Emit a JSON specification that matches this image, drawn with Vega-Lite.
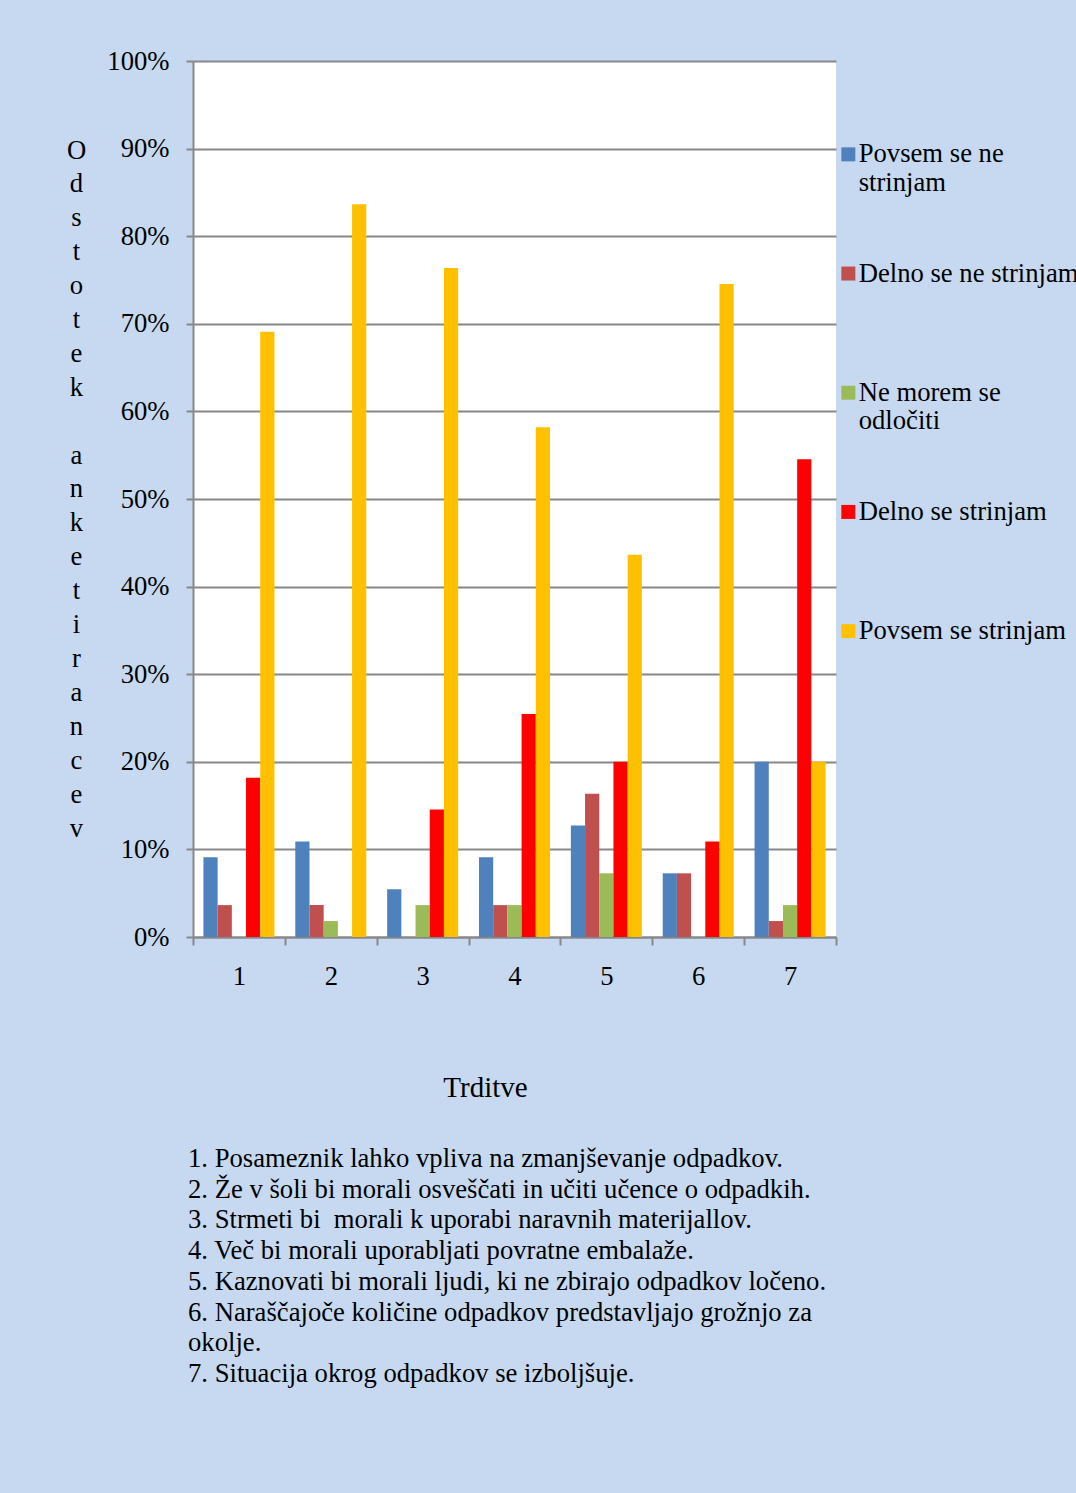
{
  "$schema": "https://vega.github.io/schema/vega-lite/v6.json",
  "width": 643,
  "height": 876,
  "autosize": {"type": "none"},
  "padding": {"left": 193, "top": 61, "right": 240, "bottom": 556},
  "background": "#C6D9F1",
  "config": {
    "view": {"fill": "white", "stroke": null},
    "font": "Liberation Serif",
    "axis": {"labelFont": "Liberation Serif", "titleFont": "Liberation Serif", "labelColor": "black", "titleColor": "black", "titleFontWeight": "normal"},
    "legend": {"labelFont": "Liberation Serif"}
  },
  "title": {
    "text": [
      "1. Posameznik lahko vpliva na zmanjševanje odpadkov.",
      "2. Že v šoli bi morali osveščati in učiti učence o odpadkih.",
      "3. Strmeti bi\u00a0 morali k uporabi naravnih materijallov.",
      "4. Več bi morali uporabljati povratne embalaže.",
      "5. Kaznovati bi morali ljudi, ki ne zbirajo odpadkov ločeno.",
      "6. Naraščajoče količine odpadkov predstavljajo grožnjo za",
      "okolje.",
      "7. Situacija okrog odpadkov se izboljšuje."
    ],
    "orient": "bottom",
    "anchor": "start",
    "frame": "group",
    "font": "Liberation Serif",
    "fontSize": 26.67,
    "fontWeight": "normal",
    "lineHeight": 30.7,
    "color": "black",
    "baseline": "top",
    "dx": -5,
    "offset": 44
  },
  "data": {
    "values": [
      {"t": "1", "s": "Povsem se ne strinjam", "v": 0.0909},
      {"t": "1", "s": "Delno se ne strinjam", "v": 0.0364},
      {"t": "1", "s": "Ne morem se odločiti", "v": 0},
      {"t": "1", "s": "Delno se strinjam", "v": 0.1818},
      {"t": "1", "s": "Povsem se strinjam", "v": 0.6909},
      {"t": "2", "s": "Povsem se ne strinjam", "v": 0.1091},
      {"t": "2", "s": "Delno se ne strinjam", "v": 0.0364},
      {"t": "2", "s": "Ne morem se odločiti", "v": 0.0182},
      {"t": "2", "s": "Delno se strinjam", "v": 0},
      {"t": "2", "s": "Povsem se strinjam", "v": 0.8364},
      {"t": "3", "s": "Povsem se ne strinjam", "v": 0.0545},
      {"t": "3", "s": "Delno se ne strinjam", "v": 0},
      {"t": "3", "s": "Ne morem se odločiti", "v": 0.0364},
      {"t": "3", "s": "Delno se strinjam", "v": 0.1455},
      {"t": "3", "s": "Povsem se strinjam", "v": 0.7636},
      {"t": "4", "s": "Povsem se ne strinjam", "v": 0.0909},
      {"t": "4", "s": "Delno se ne strinjam", "v": 0.0364},
      {"t": "4", "s": "Ne morem se odločiti", "v": 0.0364},
      {"t": "4", "s": "Delno se strinjam", "v": 0.2545},
      {"t": "4", "s": "Povsem se strinjam", "v": 0.5818},
      {"t": "5", "s": "Povsem se ne strinjam", "v": 0.1273},
      {"t": "5", "s": "Delno se ne strinjam", "v": 0.1636},
      {"t": "5", "s": "Ne morem se odločiti", "v": 0.0727},
      {"t": "5", "s": "Delno se strinjam", "v": 0.2},
      {"t": "5", "s": "Povsem se strinjam", "v": 0.4364},
      {"t": "6", "s": "Povsem se ne strinjam", "v": 0.0727},
      {"t": "6", "s": "Delno se ne strinjam", "v": 0.0727},
      {"t": "6", "s": "Ne morem se odločiti", "v": 0},
      {"t": "6", "s": "Delno se strinjam", "v": 0.1091},
      {"t": "6", "s": "Povsem se strinjam", "v": 0.7455},
      {"t": "7", "s": "Povsem se ne strinjam", "v": 0.2},
      {"t": "7", "s": "Delno se ne strinjam", "v": 0.0182},
      {"t": "7", "s": "Ne morem se odločiti", "v": 0.0364},
      {"t": "7", "s": "Delno se strinjam", "v": 0.5455},
      {"t": "7", "s": "Povsem se strinjam", "v": 0.2}
    ]
  },
  "mark": {"type": "bar"},
  "encoding": {
    "x": {
      "field": "t",
      "type": "nominal",
      "scale": {"paddingInner": 0, "paddingOuter": 0},
      "axis": {
        "tickBand": "extent",
        "labelAngle": 0,
        "labelFontSize": 26.67,
        "labelPadding": 18,
        "tickSize": 8,
        "tickColor": "#888888",
        "tickWidth": 2,
        "domainColor": "#888888",
        "domainWidth": 2,
        "grid": false,
        "title": "Trditve",
        "titleFontSize": 29,
        "titleX": 292,
        "titleY": 150,
        "titleAlign": "center",
        "titleBaseline": "middle"
      }
    },
    "xOffset": {
      "field": "s",
      "type": "nominal",
      "sort": ["Povsem se ne strinjam", "Delno se ne strinjam", "Ne morem se odločiti", "Delno se strinjam", "Povsem se strinjam"],
      "scale": {"paddingInner": 0, "paddingOuter": 0.735}
    },
    "y": {
      "field": "v",
      "type": "quantitative",
      "scale": {"domain": [0, 1], "nice": false},
      "axis": {
        "values": [0, 0.1, 0.2, 0.3, 0.4, 0.5, 0.6, 0.7, 0.8, 0.9, 1],
        "format": ".0%",
        "labelFontSize": 26.67,
        "labelPadding": 17,
        "tickSize": 7,
        "tickColor": "#888888",
        "tickWidth": 2,
        "domainColor": "#888888",
        "domainWidth": 2,
        "gridColor": "#888888",
        "gridWidth": 2,
        "title": ["O","d","s","t","o","t","e","k","\u200b","a","n","k","e","t","i","r","a","n","c","e","v"],
        "titleAngle": 0,
        "titleAlign": "center",
        "titleBaseline": "middle",
        "titleX": -117,
        "titleY": 89,
        "titleFontSize": 26.67,
        "titleLineHeight": 33.9
      }
    },
    "color": {
      "field": "s",
      "type": "nominal",
      "sort": ["Povsem se ne strinjam", "Delno se ne strinjam", "Ne morem se odločiti", "Delno se strinjam", "Povsem se strinjam"],
      "scale": {
        "domain": ["Povsem se ne strinjam", "Delno se ne strinjam", "Ne morem se odločiti", "Delno se strinjam", "Povsem se strinjam"],
        "range": ["#4F81BD", "#C0504D", "#9BBB59", "#FF0000", "#FFC000"]
      },
      "legend": {
        "title": null,
        "orient": "none",
        "legendX": 642,
        "legendY": 80,
        "symbolType": "square",
        "symbolSize": 196,
        "symbolStrokeWidth": 0,
        "labelFontSize": 26.67,
        "labelColor": "black",
        "labelOffset": -3,
        "labelLimit": 500,
        "labelBaseline": "middle",
        "labelLineHeight": 30,
        "rowPadding": 63.2,
        "labelExpr": "datum.label == 'Povsem se ne strinjam' ? ['Povsem se ne', 'strinjam'] : datum.label == 'Ne morem se odločiti' ? ['Ne morem se', 'odločiti'] : [datum.label, '\u00a0']"
      }
    }
  }
}
